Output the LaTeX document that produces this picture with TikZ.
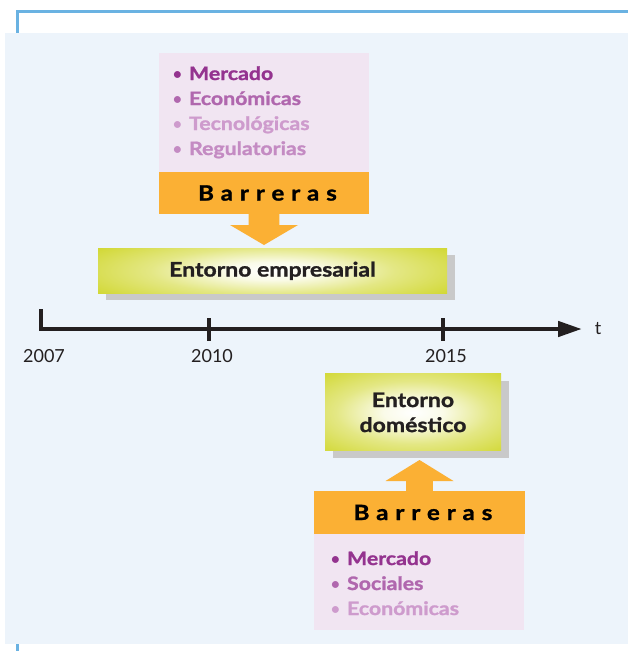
\documentclass[tikz,border=0pt]{standalone}
\usepackage{fontspec}
\setmainfont{Lato}[BoldFeatures={FakeStretch=1.15, FakeBold=1.3}]
\usetikzlibrary{calc,arrows.meta,shadows}

\definecolor{framebl}{HTML}{6AB2E2}
\definecolor{panel}{HTML}{EDF4FB}
\definecolor{listbg}{HTML}{F1E5F2}
\definecolor{barrier}{HTML}{FBB034}
\definecolor{envgreen}{HTML}{CDD420}
\definecolor{shadowgrey}{HTML}{C9C9C9}
\definecolor{ink}{HTML}{231F20}
\definecolor{itemA}{HTML}{94338F}
\definecolor{itemB}{HTML}{B067AE}
\definecolor{itemC}{HTML}{CE9BCD}
\definecolor{itemD}{HTML}{C48BC3}

% soft white glow in the middle of the green boxes
\pgfdeclareradialshading{glow}{\pgfpoint{0bp}{0bp}}{%
  color(0bp)=(white); color(5bp)=(white!90!envgreen);
  color(13bp)=(white!45!envgreen); color(25bp)=(envgreen); color(50bp)=(envgreen)}

% list bullet in the regular weight
\newcommand{\lbul}{{\mdseries\kern2pt•\kern1pt}}

\begin{document}
\begin{tikzpicture}[x=1pt,y=-1pt,
  listbox/.style={fill=listbg, draw=none, inner sep=0pt, outer sep=0pt},
  barbox/.style={fill=barrier, draw=none, inner sep=0pt, outer sep=0pt,
    minimum height=43pt, text=black,
    font=\fontsize{21}{25}\selectfont\bfseries\addfontfeatures{LetterSpace=33}},
  envbox/.style={fill=envgreen, draw=none, inner sep=0pt, outer sep=0pt,
    text=ink, align=center, font=\fontsize{20}{25}\selectfont\bfseries,
    drop shadow={shadow xshift=7.5pt, shadow yshift=-7pt, fill=shadowgrey, opacity=1},
    path picture={\shade[shading=glow]
      ([xshift=-60pt,yshift=-22pt]path picture bounding box.south west) rectangle
      ([xshift=60pt,yshift=22pt]path picture bounding box.north east);}},
  item/.style={anchor=base west, inner sep=0pt, font=\fontsize{18.5}{25}\selectfont\bfseries},
  axis/.style={draw=ink, line width=4.5pt},
  yearlbl/.style={text=ink, inner sep=0pt, font=\fontsize{18}{20}\selectfont}
]
\useasboundingbox (0,0) rectangle (628,651);

% frame and panel
\draw[framebl, line width=3pt] (17,655) -- (17,11.5) -- (632,11.5);
\fill[panel] (5,33) rectangle (628,644);

% upper barrier block
\node[listbox, minimum width=210pt, minimum height=119pt] (list1) at (264,112.5) {};
\node[barbox, minimum width=210pt, minimum height=42pt] (bar1) at (264,193) {Barreras\kern-0.33em};
\node[item, text=itemA] (u1) at (170,80) {\lbul{} Mercado};
\node[item, text=itemB] (u2) at (170,105) {\lbul{} Económicas};
\node[item, text=itemC] (u3) at (170,130) {\lbul{} Tecnológicas};
\node[item, text=itemD] (u4) at (170,155) {\lbul{} Regulatorias};

% business environment
\node[envbox, minimum width=349pt, minimum height=45pt] (emp) at (272.5,270.8) {Entorno empresarial};

% arrow from the barriers into the business environment
\fill[barrier] ($(bar1.south)+(-15.3,-1)$) -- ($(bar1.south)+(-15.3,11)$)
  -- ($(bar1.south)+(-34,11)$) -- ($(bar1.south)+(0,31)$)
  -- ($(bar1.south)+(34,11)$) -- ($(bar1.south)+(15.3,11)$)
  -- ($(bar1.south)+(15.3,-1)$) -- cycle;

% time axis
\coordinate (t0) at (41,309);
\coordinate (tend) at (582,329);
\coordinate (k1a) at (209,318); \coordinate (k1b) at (209,341);
\coordinate (k2a) at (443,318); \coordinate (k2b) at (443,341);
\draw[axis, -{Triangle[length=24pt,width=15pt]}] (t0) |- (tend);
\draw[axis] (k1a) -- (k1b);
\draw[axis] (k2a) -- (k2b);
\node[yearlbl] (y07) at (44,356) {2007};
\node[yearlbl] (y10) at (212,356) {2010};
\node[yearlbl] (y15) at (446,356) {2015};
\node[yearlbl] (tl) at (598,329) {t};

% domestic environment
\node[envbox, minimum width=176pt, minimum height=77pt] (dom) at (413,412.4) {Entorno\\doméstico};

% lower barrier block
\node[barbox, minimum width=211pt] (bar2) at (419.5,512.5) {Barreras\kern-0.33em};
\node[listbox, minimum width=210pt, minimum height=96pt, anchor=north] (list2) at (419,534) {};
\node[item, text=itemA] (d1) at (328,565) {\lbul{} Mercado};
\node[item, text=itemB] (d2) at (328,590) {\lbul{} Sociales};
\node[item, text=itemC] (d3) at (328,615) {\lbul{} Económicas};

% arrow from the barriers into the domestic environment
\fill[barrier] ($(bar2.north)+(-13.3,1)$) -- ($(bar2.north)+(-13.3,-10)$)
  -- ($(bar2.north)+(-34,-10)$) -- ($(bar2.north)+(0,-31)$)
  -- ($(bar2.north)+(34,-10)$) -- ($(bar2.north)+(13.3,-10)$)
  -- ($(bar2.north)+(13.3,1)$) -- cycle;
\end{tikzpicture}
\end{document}
